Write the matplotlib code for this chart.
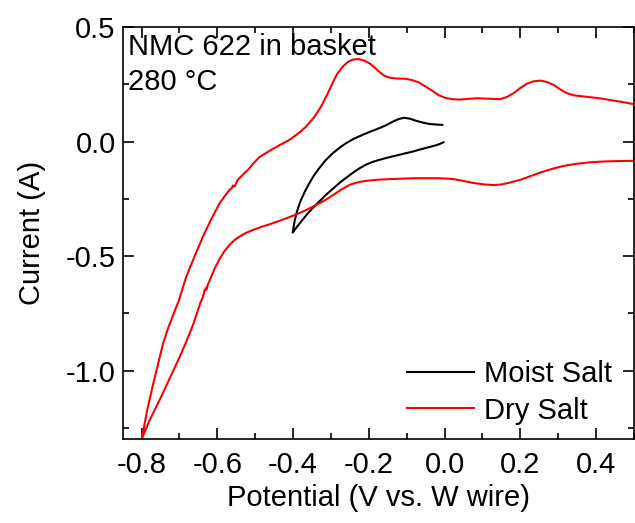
import matplotlib
matplotlib.use("Agg")
import matplotlib.pyplot as plt
from matplotlib.ticker import MultipleLocator, FormatStrFormatter

plt.rcParams['font.family'] = ['Liberation Sans', 'DejaVu Sans']
plt.rcParams['axes.unicode_minus'] = False

# Dry salt CV loop (upper branch left->right, then lower branch right->left)
dry_x = [-0.805, -0.800, -0.785, -0.769, -0.755, -0.743, -0.730, -0.715, -0.701,
         -0.682, -0.660, -0.638, -0.615, -0.594, -0.580, -0.568, -0.562, -0.559,
         -0.555, -0.546, -0.530, -0.519, -0.505, -0.489, -0.462, -0.436, -0.410,
         -0.383, -0.366, -0.345, -0.326, -0.310, -0.296, -0.283, -0.269, -0.255,
         -0.242, -0.228, -0.215, -0.199, -0.186, -0.173, -0.160, -0.146, -0.125,
         -0.103, -0.085, -0.068, -0.050, -0.033, -0.015, 0.003, 0.020, 0.038,
         0.060, 0.086, 0.115, 0.147, 0.165, 0.182, 0.200, 0.217, 0.235,
         0.253, 0.270, 0.288, 0.305, 0.323, 0.340, 0.360, 0.393, 0.420,
         0.446, 0.475, 0.500,
         0.500, 0.460, 0.419, 0.380, 0.349, 0.325, 0.305, 0.280, 0.253,
         0.225, 0.200, 0.170, 0.150, 0.130, 0.105, 0.077, 0.050, 0.024,
         0.000, -0.024, -0.085, -0.130, -0.173, -0.200, -0.217, -0.235, -0.252,
         -0.270, -0.287, -0.305, -0.322, -0.348, -0.370, -0.392, -0.415, -0.436,
         -0.462, -0.485, -0.506, -0.525, -0.541, -0.555, -0.568, -0.582, -0.594,
         -0.606, -0.616, -0.622, -0.627, -0.631, -0.627, -0.633, -0.638, -0.645,
         -0.651, -0.664, -0.680, -0.699, -0.725, -0.752, -0.780, -0.800, -0.805]
dry_y = [-1.330, -1.300, -1.170, -1.054, -0.960, -0.879, -0.814, -0.750, -0.690,
         -0.589, -0.500, -0.414, -0.335, -0.269, -0.237, -0.211, -0.203, -0.192,
         -0.197, -0.167, -0.140, -0.123, -0.095, -0.068, -0.040, -0.016, 0.007,
         0.040, 0.065, 0.105, 0.153, 0.205, 0.255, 0.297, 0.327, 0.348,
         0.358, 0.360, 0.355, 0.342, 0.325, 0.305, 0.288, 0.279, 0.275,
         0.274, 0.268, 0.258, 0.240, 0.222, 0.202, 0.190, 0.185, 0.183,
         0.186, 0.189, 0.187, 0.185, 0.195, 0.211, 0.234, 0.252, 0.263,
         0.266, 0.260, 0.247, 0.228, 0.211, 0.202, 0.198, 0.192, 0.186,
         0.179, 0.171, 0.163,
         -0.084, -0.085, -0.087, -0.091, -0.097, -0.103, -0.110, -0.121, -0.135,
         -0.152, -0.167, -0.180, -0.187, -0.190, -0.187, -0.181, -0.172, -0.164,
         -0.161, -0.160, -0.160, -0.163, -0.166, -0.170, -0.174, -0.180, -0.190,
         -0.207, -0.225, -0.245, -0.262, -0.284, -0.302, -0.318, -0.333, -0.346,
         -0.361, -0.373, -0.386, -0.399, -0.414, -0.430, -0.451, -0.480, -0.512,
         -0.550, -0.589, -0.612, -0.632, -0.648, -0.640, -0.645, -0.676, -0.705,
         -0.734, -0.799, -0.865, -0.938, -1.030, -1.126, -1.220, -1.300, -1.330]

# Moist salt CV loop
moist_x = [-0.003, -0.015, -0.033, -0.050, -0.068, -0.085, -0.103, -0.120, -0.138,
           -0.155, -0.173, -0.190, -0.208, -0.225, -0.243, -0.260, -0.278, -0.295,
           -0.313, -0.330, -0.348, -0.362, -0.375, -0.388, -0.401,
           -0.397, -0.392, -0.386, -0.379, -0.368, -0.357, -0.345, -0.331, -0.315,
           -0.296, -0.278, -0.261, -0.240, -0.217, -0.195, -0.173, -0.155, -0.138,
           -0.122, -0.107, -0.092, -0.076, -0.058, -0.041, -0.020, -0.006]
moist_y = [-0.003, -0.012, -0.021, -0.028, -0.036, -0.044, -0.051, -0.058, -0.065,
           -0.072, -0.080, -0.089, -0.101, -0.117, -0.137, -0.158, -0.181, -0.206,
           -0.232, -0.260, -0.290, -0.315, -0.341, -0.368, -0.397,
           -0.355, -0.318, -0.285, -0.254, -0.215, -0.181, -0.148, -0.116, -0.083,
           -0.052, -0.028, -0.008, 0.012, 0.029, 0.044, 0.058, 0.071, 0.086,
           0.098, 0.104, 0.100, 0.091, 0.083, 0.077, 0.074, 0.073]

FS = 21

fig = plt.figure(figsize=(6.35, 5.23), dpi=100)
ax = fig.add_axes([0.1932, 0.1597, 0.8052, 0.7887])

ax.plot(moist_x, moist_y, color='black', lw=1.5, label='Moist Salt')
ax.plot(dry_x, dry_y, color='#ff0000', lw=1.5, label='Dry Salt')

ax.set_xlim(-0.85, 0.5)
ax.set_ylim(-1.3, 0.5)
ax.xaxis.set_major_locator(MultipleLocator(0.2))
ax.xaxis.set_minor_locator(MultipleLocator(0.1))
ax.yaxis.set_major_locator(MultipleLocator(0.5))
ax.yaxis.set_minor_locator(MultipleLocator(0.25))
ax.xaxis.set_major_formatter(FormatStrFormatter('%.1f'))
ax.yaxis.set_major_formatter(FormatStrFormatter('%.1f'))
ax.tick_params(which='both', direction='in', top=True, right=True, labelsize=FS)
ax.tick_params(which='major', length=8, width=1.2)
ax.tick_params(which='minor', length=4, width=1.2)
ax.tick_params(axis='x', which='major', pad=8)
ax.tick_params(axis='y', which='major', pad=5)
for s in ax.spines.values():
    s.set_linewidth(1.2)

ax.set_xlabel('Potential (V vs. W wire)', fontsize=FS, labelpad=4)
ax.set_ylabel('Current (A)', fontsize=FS, labelpad=14.5)

fig.text(128 / 635, 1 - 55 / 523, 'NMC 622 in basket', fontsize=FS,
         ha='left', va='baseline')
fig.text(128 / 635, 1 - 90.5 / 523, '280 \u00b0C', fontsize=FS,
         ha='left', va='baseline')

leg = ax.legend(loc='lower right', bbox_to_anchor=(1.0, -0.017),
                frameon=False, fontsize=FS,
                handlelength=2.28, handletextpad=0.35, labelspacing=0.3,
                borderaxespad=0.35)

fig.savefig('out.png', dpi=100)
